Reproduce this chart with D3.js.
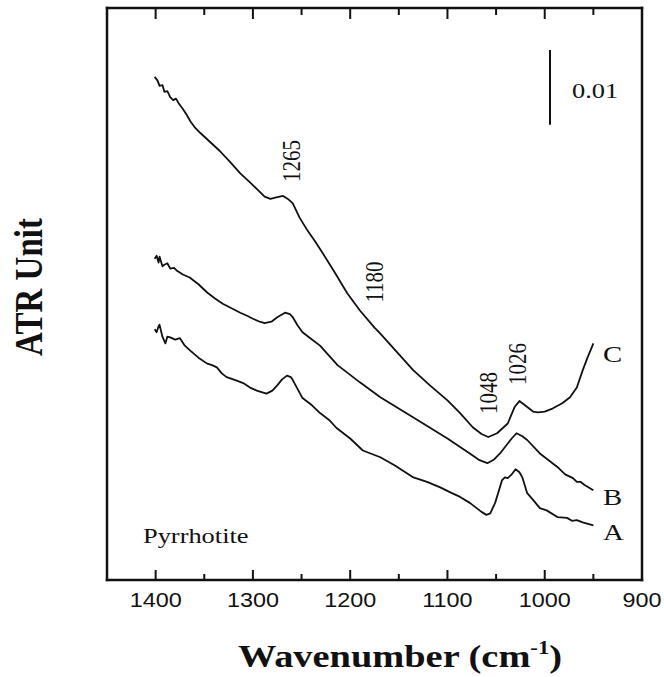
<!DOCTYPE html>
<html>
<head>
<meta charset="utf-8">
<script src="https://cdn.jsdelivr.net/npm/d3@7/dist/d3.min.js"></script>
<style>
  body { margin: 0; background: #fff; }
  svg { display: block; }
</style>
</head>
<body>
<svg id="chart" width="664" height="677"></svg>
<script>
// x ticks (wavenumber, cm-1)
const majorTicks = [1400, 1300, 1200, 1100, 1000, 900];
const minorTicks = [1350, 1250, 1150, 1050, 950];

// spectra: [wavenumber, ATR]
const curveC = [
  [1401, 0.0672], [1398, 0.0667], [1396, 0.0660], [1393, 0.0661], [1391, 0.0652],
  [1388, 0.0653], [1385, 0.0645], [1382, 0.0641], [1379, 0.0643], [1376, 0.0636],
  [1372, 0.0629], [1368, 0.0621], [1364, 0.0612], [1360, 0.0605], [1354, 0.0597],
  [1344, 0.0585], [1334, 0.0573], [1324, 0.0559], [1313, 0.0543], [1303, 0.0531],
  [1295, 0.0521], [1288, 0.0512], [1282, 0.0509], [1276, 0.0511], [1269, 0.0513],
  [1264, 0.0509], [1259, 0.0503], [1252, 0.0484], [1244, 0.0467], [1236, 0.0452],
  [1228, 0.0436], [1216, 0.0411], [1203, 0.0383], [1190, 0.0360], [1175, 0.0337],
  [1169, 0.0329], [1135, 0.0280], [1118, 0.0260], [1100, 0.0240], [1087, 0.0223],
  [1074, 0.0204], [1065, 0.0195], [1058, 0.0191], [1049, 0.0196], [1038, 0.0209],
  [1031, 0.0231], [1026, 0.0239], [1018, 0.0231], [1012, 0.0225], [1007, 0.0224],
  [1000, 0.0225], [992, 0.0229], [982, 0.0236], [974, 0.0244], [967, 0.0257],
  [961, 0.0280], [956, 0.0297], [950, 0.0316]
];

const curveB = [
  [1401, 0.0429], [1399, 0.0433], [1397, 0.0424], [1396, 0.0432], [1393, 0.0419],
  [1391, 0.0421], [1388, 0.0423], [1385, 0.0416], [1381, 0.0417], [1378, 0.0413],
  [1372, 0.0408], [1365, 0.0404], [1356, 0.0395], [1347, 0.0384], [1339, 0.0376],
  [1331, 0.0369], [1322, 0.0363], [1313, 0.0357], [1306, 0.0353], [1300, 0.0349],
  [1293, 0.0345], [1288, 0.0343], [1281, 0.0345], [1275, 0.0351], [1267, 0.0357],
  [1262, 0.0355], [1259, 0.0351], [1254, 0.0340], [1249, 0.0331], [1239, 0.0321],
  [1231, 0.0313], [1213, 0.0287], [1190, 0.0264], [1169, 0.0244], [1135, 0.0217],
  [1100, 0.0189], [1077, 0.0169], [1067, 0.0160], [1059, 0.0156], [1052, 0.0161],
  [1046, 0.0169], [1040, 0.0179], [1034, 0.0189], [1029, 0.0196], [1023, 0.0192],
  [1018, 0.0187], [1005, 0.0169], [987, 0.0151], [979, 0.0141], [971, 0.0136],
  [967, 0.0131], [963, 0.0131], [959, 0.0127], [950, 0.0120]
];

const curveA = [
  [1401, 0.0335], [1399, 0.0331], [1397, 0.0339], [1396, 0.0341], [1393, 0.0325],
  [1391, 0.0319], [1390, 0.0316], [1388, 0.0325], [1385, 0.0324], [1380, 0.0321],
  [1375, 0.0323], [1370, 0.0313], [1365, 0.0307], [1356, 0.0297], [1347, 0.0289],
  [1342, 0.0287], [1337, 0.0284], [1332, 0.0276], [1327, 0.0271], [1318, 0.0267],
  [1310, 0.0263], [1303, 0.0257], [1296, 0.0253], [1291, 0.0251], [1286, 0.0249],
  [1280, 0.0253], [1275, 0.0260], [1270, 0.0268], [1265, 0.0273], [1261, 0.0271],
  [1259, 0.0267], [1254, 0.0255], [1249, 0.0243], [1239, 0.0233], [1231, 0.0223],
  [1221, 0.0213], [1214, 0.0203], [1200, 0.0189], [1187, 0.0173], [1169, 0.0164],
  [1154, 0.0153], [1135, 0.0137], [1121, 0.0131], [1108, 0.0124], [1097, 0.0117],
  [1087, 0.0111], [1077, 0.0103], [1070, 0.0096], [1065, 0.0091], [1060, 0.0087],
  [1056, 0.0089], [1051, 0.0103], [1047, 0.0120], [1044, 0.0133], [1041, 0.0137],
  [1038, 0.0136], [1034, 0.0141], [1030, 0.0148], [1026, 0.0144], [1023, 0.0137],
  [1018, 0.0116], [1012, 0.0107], [1005, 0.0096], [998, 0.0093], [987, 0.0084],
  [977, 0.0083], [972, 0.0079], [967, 0.0080], [961, 0.0077], [950, 0.0073]
];

const seriesNames = ["A", "B", "C"];
const peakLabels = ["1265", "1180", "1048", "1026"];
const scaleBarValue = 0.01;

const svg = d3.select("svg#chart");
const plotLeft = 107, plotRight = 642, plotTop = 8, plotBottom = 580;
const serif = "'Liberation Serif', 'Times New Roman', serif";
const stretch = "scale(1.2,1)"; // the scan is a bit wider than tall

const x = d3.scaleLinear().domain([1450, 900]).range([plotLeft, plotRight]);
const y = d3.scaleLinear().domain([0, 0.0764]).range([plotBottom, plotTop]);

// frame, one side at a time
const frameSides = [
  [plotLeft, plotTop, plotRight, plotTop],
  [plotRight, plotTop, plotRight, plotBottom],
  [plotLeft, plotBottom, plotRight, plotBottom],
  [plotLeft, plotTop, plotLeft, plotBottom]
];
svg.selectAll("line.frame")
  .data(frameSides)
  .join("line")
  .attr("class", "frame")
  .attr("x1", d => d[0]).attr("y1", d => d[1])
  .attr("x2", d => d[2]).attr("y2", d => d[3])
  .attr("stroke", "#111").attr("stroke-width", 2.5)
  .attr("stroke-linecap", "square");

// ticks pointing inwards, top and bottom
function addTicks(values, size, withLabels) {
  svg.selectAll(null)
    .data(values)
    .join("line")
    .attr("x1", d => x(d)).attr("x2", d => x(d))
    .attr("y1", plotBottom).attr("y2", plotBottom - size)
    .attr("stroke", "#111").attr("stroke-width", 2);
  svg.selectAll(null)
    .data(values)
    .join("line")
    .attr("x1", d => x(d)).attr("x2", d => x(d))
    .attr("y1", plotTop).attr("y2", plotTop + size + 1)
    .attr("stroke", "#111").attr("stroke-width", 2);
  if (withLabels) {
    svg.selectAll(null)
      .data(values)
      .join("text")
      .attr("transform", d => `translate(${x(d)},607) ${stretch}`)
      .attr("text-anchor", "middle")
      .attr("font-family", "'Liberation Sans', Arial, sans-serif")
      .attr("font-size", 19.5)
      .attr("fill", "#111")
      .text(d => d);
  }
}
addTicks(majorTicks, 10, true);
addTicks(minorTicks, 6, false);

// spectra
const lineGen = d3.line().x(d => x(d[0])).y(d => y(d[1]));
[curveA, curveB, curveC].forEach(c => {
  svg.append("path")
    .datum(c)
    .attr("d", lineGen)
    .attr("fill", "none")
    .attr("stroke", "#111")
    .attr("stroke-width", 1.8)
    .attr("stroke-linejoin", "round");
});

// series letters at the right ends
const seriesY = [540, 505, 362];
seriesNames.forEach((n, i) => {
  svg.append("text")
    .attr("transform", `translate(603,${seriesY[i]}) ${stretch}`)
    .attr("font-family", serif).attr("font-size", 24).attr("fill", "#111")
    .text(n);
});

// rotated peak labels
const peakPos = [[300, 161], [383, 282], [497, 393], [526, 364]];
peakLabels.forEach((t, i) => {
  svg.append("text")
    .attr("transform", `translate(${peakPos[i][0]},${peakPos[i][1]}) ${stretch} rotate(-90)`)
    .attr("text-anchor", "middle")
    .attr("font-family", serif).attr("font-size", 21).attr("fill", "#111")
    .text(t);
});

// scale bar 0.01
const barBase = 0.0608;
svg.append("line")
  .attr("x1", 550).attr("x2", 550)
  .attr("y1", y(barBase)).attr("y2", y(barBase + scaleBarValue))
  .attr("stroke", "#111").attr("stroke-width", 2);
svg.append("text")
  .attr("transform", `translate(572,98) ${stretch}`)
  .attr("font-family", serif).attr("font-size", 22).attr("fill", "#111")
  .text(scaleBarValue);

svg.append("text")
  .attr("transform", `translate(143,543) ${stretch}`)
  .attr("font-family", serif).attr("font-size", 22).attr("fill", "#111")
  .text("Pyrrhotite");

// axis titles
svg.append("text")
  .attr("transform", `translate(42,287) ${stretch} rotate(-90)`)
  .attr("text-anchor", "middle")
  .attr("font-family", serif).attr("font-size", 33).attr("font-weight", "bold")
  .attr("fill", "#111")
  .text("ATR Unit");

const xt = svg.append("text")
  .attr("transform", `translate(400,667) ${stretch}`)
  .attr("text-anchor", "middle")
  .attr("font-family", serif).attr("font-size", 32).attr("font-weight", "bold")
  .attr("fill", "#111");
xt.append("tspan").text("Wavenumber (cm");
xt.append("tspan").attr("dy", -13).attr("font-size", 19).text("-1");
xt.append("tspan").attr("dy", 13).text(")");
</script>
</body>
</html>
